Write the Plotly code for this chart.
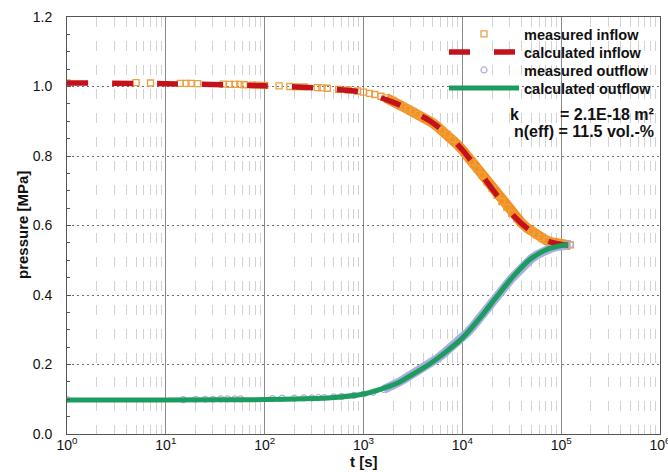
import plotly.graph_objects as go

# ---------------- data ----------------
# calculated curves
t_calc = [1, 10, 100, 316, 464, 1000, 2190, 3160, 4750, 7080, 10000, 15100,
          22400, 33100, 48600, 71600, 104700, 117500]
p_calc_in = [1.010, 1.008, 1.002, 0.996, 0.993, 0.983, 0.950, 0.928, 0.900,
             0.862, 0.818, 0.752, 0.687, 0.628, 0.585, 0.556, 0.545, 0.544]
p_calc_out = [0.098, 0.098, 0.099, 0.102, 0.104, 0.115, 0.146, 0.172, 0.203,
              0.240, 0.276, 0.334, 0.396, 0.455, 0.503, 0.531, 0.543, 0.545]

# measured inflow
t_meas_in = [1, 5, 7, 14, 16, 18, 21, 38, 44, 50, 56, 62, 75, 85, 100, 140,
             180, 210, 250, 340, 380, 430, 560, 700, 870, 1000, 1150, 1300,
             1500, 1700, 2000,
             2240, 2510, 2820, 3160, 3550, 3980, 4470, 5010, 5620, 6310, 7080,
             7940, 8910, 10000, 11200, 12600, 14100, 15800, 17800, 20000, 22400,
             25100, 28200, 31600, 35500, 39800, 44700, 50100, 56200, 63100,
             70800, 79400, 89100, 100000, 112000, 124000]
p_meas_in = [1.010, 1.011, 1.010, 1.009, 1.009, 1.009, 1.008, 1.007, 1.006,
             1.006, 1.006, 1.005, 1.004, 1.004, 1.003, 1.002, 1.000, 0.999,
             0.999, 0.997, 0.996, 0.995, 0.992, 0.990, 0.987, 0.984, 0.980,
             0.977, 0.972, 0.967, 0.960,
             0.949, 0.942, 0.935, 0.928, 0.920, 0.912, 0.904, 0.895, 0.884,
             0.873, 0.862, 0.848, 0.833, 0.818, 0.800, 0.782, 0.763, 0.744,
             0.725, 0.706, 0.687, 0.669, 0.652, 0.635, 0.620, 0.607, 0.594,
             0.583, 0.573, 0.565, 0.557, 0.552, 0.548, 0.546, 0.545, 0.544]

# measured outflow
t_meas_out = [1, 15, 20, 25, 30, 36, 42, 50, 57, 120, 150, 200, 250, 300, 350,
              400, 500, 600, 800, 1000, 1250, 1600, 2000,
              2240, 2510, 2820, 3160, 3550, 3980, 4470, 5010, 5620, 6310, 7080,
              7940, 8910, 10000, 11200, 12600, 14100, 15800, 17800, 20000, 22400,
              25100, 28200, 31600, 35500, 39800, 44700, 50100, 56200, 63100,
              70800, 79400, 89100, 100000, 112000, 124000]
p_meas_out = [0.100, 0.099, 0.100, 0.100, 0.100, 0.101, 0.101, 0.101, 0.101,
              0.102, 0.103, 0.103, 0.104, 0.104, 0.105, 0.105, 0.107, 0.108,
              0.111, 0.115, 0.120, 0.128, 0.138,
              0.148, 0.156, 0.164, 0.172, 0.181, 0.189, 0.198, 0.208, 0.218,
              0.229, 0.240, 0.252, 0.264, 0.276, 0.291, 0.307, 0.323, 0.341,
              0.359, 0.378, 0.396, 0.414, 0.431, 0.448, 0.464, 0.479, 0.493,
              0.505, 0.515, 0.523, 0.530, 0.535, 0.539, 0.542, 0.544, 0.545]

x_tick_vals = [1, 10, 100, 1000, 10000, 100000, 1000000]
x_tick_text = ["10<sup>0</sup>", "10<sup>1</sup>", "10<sup>2</sup>", "10<sup>3</sup>",
               "10<sup>4</sup>", "10<sup>5</sup>", "10<sup>6</sup>"]

annot_k_label = "k"
annot_k = "= 2.1E-18 m²"
annot_n = "n(eff) = 11.5 vol.-%"

# ---------------- layout helpers ----------------
FONT = "Liberation Sans, Arial, sans-serif"
W, H = 668, 472
ML, MR, MT, MB = 67, 8, 17, 38
PW, PH = W - ML - MR, H - MT - MB


def px_x(px):
    return (px - ML) / PW


def px_y(py):
    return 1 - (py - MT) / PH


dense_in = [(t, p) for t, p in zip(t_meas_in, p_meas_in) if t >= 1700]
dense_out = [(t, p) for t, p in zip(t_meas_out, p_meas_out) if t >= 1600]

fig = go.Figure()
# dense measurement bands
fig.add_trace(go.Scatter(x=[a for a, b in dense_in], y=[b for a, b in dense_in],
                         mode="lines", line=dict(color="#f5901e", width=10),
                         showlegend=False, hoverinfo="skip"))
fig.add_trace(go.Scatter(x=[a for a, b in dense_out], y=[b for a, b in dense_out],
                         mode="lines", line=dict(color="#a9aee6", width=9),
                         showlegend=False, hoverinfo="skip"))
fig.add_trace(go.Scatter(x=t_meas_in, y=p_meas_in, mode="markers",
                         name="measured inflow", legend="legend",
                         marker=dict(symbol="square-open", size=6,
                                     color="#eda040", line=dict(width=1.3))))
fig.add_trace(go.Scatter(x=t_meas_out, y=p_meas_out, mode="markers",
                         name="measured outflow", legend="legend3",
                         marker=dict(symbol="circle-open", size=6,
                                     color="#aab0d8", line=dict(width=1.2))))
fig.add_trace(go.Scatter(x=t_calc, y=p_calc_in, mode="lines",
                         name="calculated inflow", legend="legend2",
                         line=dict(color="#c4121c", width=5.5, dash="21px,24px",
                                   shape="spline", smoothing=0.8)))
fig.add_trace(go.Scatter(x=t_calc, y=p_calc_out, mode="lines",
                         name="calculated outflow", legend="legend4",
                         line=dict(color="#1c9c5e", width=5, shape="spline",
                                   smoothing=0.8)))

minor_vals = [k * 10 ** d for d in range(6) for k in range(2, 10)]

fig.update_xaxes(type="log", range=[0, 6], tickvals=x_tick_vals, ticktext=x_tick_text,
                 showgrid=True, gridcolor="#8a8a8a", gridwidth=1,
                 showline=True, linecolor="#555555", linewidth=1, mirror=True,
                 ticks="", tickfont=dict(family=FONT, size=14, color="#111"),
                 ticklabeloverflow="allow", ticklabelstandoff=-2,
                 minor=dict(tickvals=minor_vals, showgrid=True, gridcolor="#d2d2d2",
                            griddash="10px,14px", gridwidth=1),
                 title=dict(text=""),
                 automargin=False, zeroline=False)
fig.update_yaxes(range=[0, 1.2], dtick=0.2, tickformat=".1f",
                 showgrid=True, gridcolor="#707070", griddash="2px,3px", gridwidth=1,
                 showline=True, linecolor="#555555", linewidth=1, mirror=True,
                 ticks="inside", ticklen=4, tickcolor="#555555",
                 ticklabelstandoff=11,
                 tickfont=dict(family=FONT, size=14, color="#111"),
                 minor=dict(dtick=0.05, ticks="inside", ticklen=3, tickcolor="#555555"),
                 title=dict(text=""),
                 automargin=False, zeroline=False)

legend_common = dict(xanchor="left", yanchor="middle", bgcolor="rgba(0,0,0,0)",
                     borderwidth=0, itemwidth=70,
                     font=dict(family=FONT, size=14.5, color="#111", weight="bold"))
leg_x = px_x(444)

fig.update_layout(
    width=W, height=H,
    margin=dict(l=ML, r=MR, t=MT, b=MB),
    paper_bgcolor="white", plot_bgcolor="white",
    font=dict(family=FONT, color="#111"),
    legend=dict(x=leg_x, y=px_y(34), **legend_common),
    legend2=dict(x=leg_x, y=px_y(52), **legend_common),
    legend3=dict(x=leg_x, y=px_y(70), **legend_common),
    legend4=dict(x=leg_x, y=px_y(88), **legend_common),
    shapes=[dict(type="rect", xref="paper", yref="paper", layer="between",
                 x0=px_x(443), x1=px_x(659), y0=px_y(98), y1=px_y(19),
                 fillcolor="white", line=dict(width=0))],
    annotations=[
        dict(xref="paper", yref="paper", x=px_x(508), y=px_y(115),
             xanchor="left", yanchor="middle", showarrow=False,
             text=annot_k_label, font=dict(family=FONT, size=16, color="#111", weight="bold")),
        dict(xref="paper", yref="paper", x=px_x(656), y=px_y(115),
             xanchor="right", yanchor="middle", showarrow=False,
             text=annot_k, font=dict(family=FONT, size=16, color="#111", weight="bold")),
        dict(xref="paper", yref="paper", x=px_x(656), y=px_y(131),
             xanchor="right", yanchor="middle", showarrow=False,
             text=annot_n, font=dict(family=FONT, size=16, color="#111", weight="bold")),
        # axis titles
        dict(xref="paper", yref="paper", x=px_x(364), y=px_y(461),
             xanchor="center", yanchor="middle", showarrow=False,
             text="t [s]", font=dict(family=FONT, size=15, color="#111", weight="bold")),
        dict(xref="paper", yref="paper", x=px_x(22), y=px_y(225),
             xanchor="center", yanchor="middle", showarrow=False, textangle=-90,
             text="pressure [MPa]", font=dict(family=FONT, size=15, color="#111", weight="bold")),
    ],
)

fig.write_html("out.html", config={"displayModeBar": False},
               post_script="document.body.style.margin='0';")
